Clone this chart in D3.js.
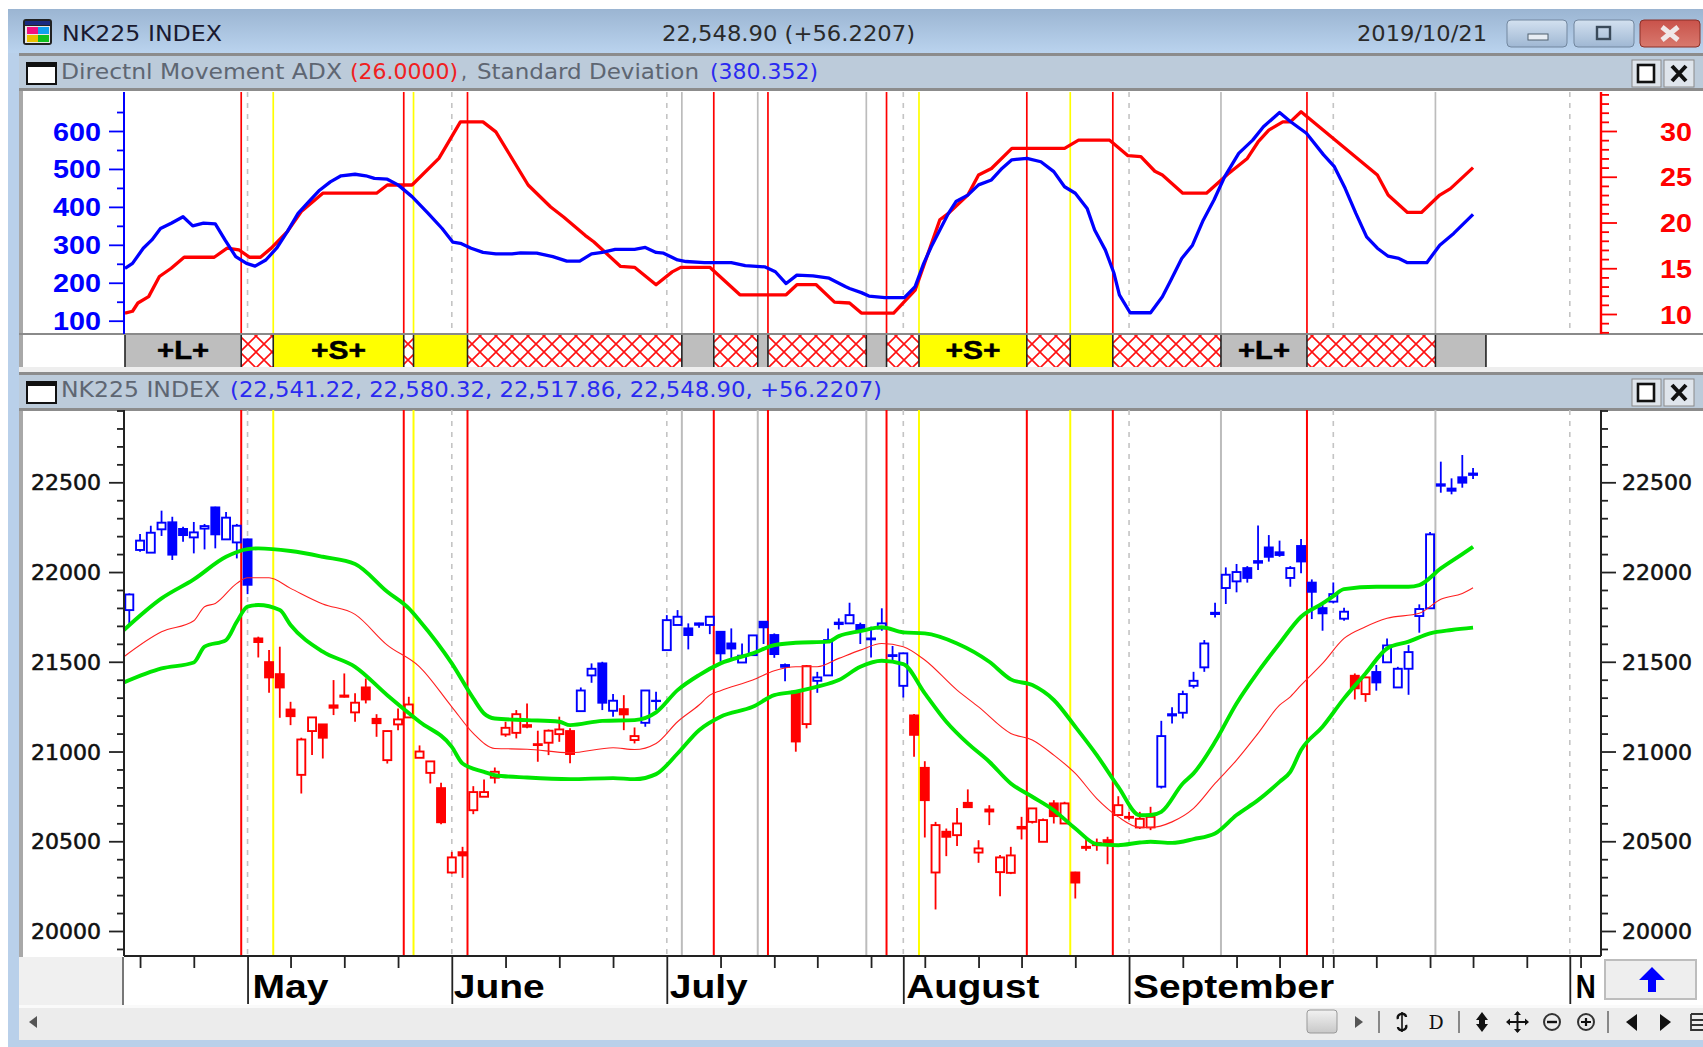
<!DOCTYPE html>
<html><head><meta charset="utf-8">
<script src="https://cdn.jsdelivr.net/npm/d3@7/dist/d3.min.js"></script>
<style>html,body{margin:0;padding:0;background:#fff;overflow:hidden}svg{display:block}</style>
</head><body><div id="chart"></div>
<script>
// ---------- data ----------
const instrument = "NK225 INDEX";
const lastQuote = "22,548.90 (+56.2207)";
const quoteDate = "2019/10/21";
const adxReading = "(26.0000)";
const stdReading = "(380.352)";
const ohlcReading = "(22,541.22, 22,580.32, 22,517.86, 22,548.90, +56.2207)";

const open = [21788,22123,22108,22238,22277,22240,22193,22242,22360,22182,22165,22182,21630,21498,21431,21234,20870,21114,21151,21257,
21305,21218,21357,21182,20952,21151,21190,20965,20881,20796,20326,20439,20673,20748,20854,21095,21104,21147,21041,21049,
21097,21114,21225,21424,21491,21227,21236,21064,21160,21283,21565,21705,21686,21714,21705,21667,21602,21496,21537,21723,
21649,21482,21333,21153,21394,21424,21718,21714,21705,21630,21686,21537,21366,21201,20909,20326,20553,20534,20714,20437,
20677,20328,20324,20580,20608,20497,20711,20599,20326,20469,20491,20506,20646,20636,20577,20577,20804,21208,21216,21366,
21469,21773,21911,21948,22022,22061,22137,22110,21967,22145,21941,21799,21835,21740,21422,21320,21443,21497,21357,21461,
21755,21798,22489,22465,22528,22541.22];
const high = [21881,22212,22258,22342,22308,22253,22279,22268,22364,22334,22268,22186,21640,21565,21584,21277,21077,21190,21153,21398,
21435,21324,21407,21208,21116,21240,21305,21034,20945,20826,20441,20469,20807,20844,20911,21166,21231,21268,21116,21123,
21194,21129,21357,21491,21500,21320,21314,21134,21342,21333,21760,21788,21714,21718,21751,21671,21686,21602,21649,21723,
21658,21491,21333,21482,21444,21686,21742,21829,21718,21695,21798,21588,21550,21209,20946,20608,20571,20686,20789,20506,
20701,20423,20469,20636,20683,20627,20729,20720,20330,20515,20515,20525,20751,20664,20664,20692,21171,21246,21339,21444,
21621,21829,22026,22045,22033,22260,22206,22175,22033,22184,21959,21816,21942,21801,21435,21417,21482,21630,21472,21593,
21820,22223,22615,22522,22652,22580.32];
const low = [21699,22113,22108,22201,22067,22169,22104,22126,22132,22182,22076,21877,21524,21327,21188,21147,20766,20980,20961,21203,
21301,21166,21268,21082,20933,21119,21190,20965,20822,20595,20320,20296,20651,20748,20822,21082,21073,21129,20943,20980,
21054,20934,21225,21383,21231,21194,21119,21045,21138,21231,21565,21705,21569,21690,21654,21500,21519,21496,21537,21599,
21522,21392,20999,21129,21327,21424,21680,21714,21599,21524,21673,21510,21301,20971,20521,20120,20417,20473,20690,20380,
20590,20194,20317,20510,20599,20497,20599,20599,20181,20447,20447,20372,20646,20618,20569,20562,20794,21156,21184,21352,
21444,21747,21822,21887,21941,22011,22058,22085,21918,21993,21738,21673,21825,21729,21290,21277,21339,21497,21357,21316,
21662,21798,22442,22433,22470,22517.86];
const close = [21875,22175,22219,22275,22097,22206,22221,22256,22210,22303,22258,21929,21610,21413,21357,21197,21067,21190,21077,21244,
21312,21272,21290,21158,21114,21179,21262,21000,20945,20606,20410,20421,20774,20774,20887,21132,21208,21138,21036,21116,
21123,20986,21340,21461,21272,21283,21207,21086,21340,21281,21732,21751,21649,21706,21751,21547,21574,21534,21647,21692,
21543,21472,21056,21476,21413,21621,21710,21760,21673,21625,21714,21532,21547,21093,20729,20590,20525,20599,20690,20460,
20666,20410,20421,20571,20683,20618,20640,20711,20270,20463,20478,20488,20701,20631,20625,20636,21086,21201,21320,21394,
21602,21766,21985,22000,21967,22052,22085,22095,22022,22059,21890,21770,21877,21779,21352,21413,21385,21591,21461,21554,
21794,22210,22481,22453,22498,22548.90];
// [first bar, last bar] of every blue run of candles; the rest are red
const blueRuns = [[0,11],[42,45],[48,61],[64,72],[96,113],[116,125]];

const upperBar = [-0.5,3,6,9,11,12,15,18,21,24,26,27,30,32,33,34,37,40,41,44,47,49,51,53,55,58,60,62,65,66,68,70,72,74,77,80,82,84,86,88,90,92,94,95,96,98,99,101,103,105,107,109,111,112,113,116,119,120,122,124,125];
const upperVal = [21677,21853,21959,22085,22128,22132,22117,22085,22045,21890,21797,21729,21491,21296,21212,21184,21175,21166,21147,21171,21175,21218,21342,21426,21491,21547,21593,21606,21612,21643,21671,21692,21664,21658,21602,21500,21402,21370,21287,21138,20980,20803,20645,20646,20664,20822,20878,21054,21268,21444,21602,21751,21825,21866,21905,21918,21918,21927,22020,22100,22141];
const midBar = [-0.5,3,6,7,8,10,11,13,15,18,21,24,27,30,32,34,37,41,45,47,49,51,53,54,55,58,60,62,64,66,68,70,72,74,77,79,82,84,86,88,90,92,94,95,97,99,101,103,105,107,108,109,111,113,115,117,120,122,124,125];
const midVal = [21528,21667,21729,21807,21825,21937,21968,21968,21909,21822,21764,21593,21472,21249,21101,21017,21013,20993,21021,21011,21045,21166,21259,21314,21339,21398,21450,21472,21472,21519,21565,21602,21584,21510,21342,21249,21101,21064,20980,20878,20738,20636,20577,20577,20608,20683,20822,20952,21101,21258,21305,21370,21491,21630,21695,21742,21770,21848,21881,21913];
const lowerBar = [-0.5,3,6,7,9,10,11,12,14,15,18,21,24,27,30,31,33,34,37,41,45,47,49,51,53,55,58,60,62,64,66,68,70,72,74,76,78,80,82,84,86,88,90,92,94,95,97,99,101,103,105,107,108,109,111,113,115,117,119,121,123,125];
const lowerVal = [21385,21463,21496,21584,21621,21723,21807,21816,21788,21705,21556,21472,21314,21166,21026,20933,20887,20868,20855,20846,20852,20846,20874,20989,21119,21194,21249,21314,21333,21361,21398,21472,21506,21487,21324,21166,21045,20943,20822,20748,20673,20571,20484,20478,20493,20497,20491,20512,20543,20646,20729,20831,20887,21008,21138,21296,21435,21574,21612,21658,21677,21690];

const stdBar = [-0.4,0.3,1.3,2.1,2.9,3.9,5,5.9,6.9,8,8.9,9.9,10.9,11.7,12.7,13.7,14.7,15.7,16.7,17.7,18.7,19.7,21,22,22.8,24,25,26.3,27.8,29.1,30.1,30.8,31.8,32.9,34.1,35.6,36.4,37.9,39.4,40.7,41.9,43,44,45.2,47,48,49,49.7,51,51.8,53.5,56,57.3,59.1,60.1,61.1,62.1,63.6,65.1,66.6,67,68.1,68.8,70.3,72.1,73.1,73.9,74.6,75.4,76.2,76.9,78,79,80.2,81.2,82.1,83.5,84.8,86,87,88,89.1,89.8,90.8,91.6,92.1,93.1,95,96.1,96.9,97.9,98.9,99.9,100.9,101.9,103.2,104.5,105.5,107,108,109.5,111.1,112.1,113.1,114.1,115.1,116.1,117.1,118.1,118.9,120.7,121.9,123.2,125];
const stdVal = [238,251,291,313,343,357,374,350,357,355,313,269,251,244,260,291,335,383,414,444,466,482,486,482,475,473,458,427,383,343,307,304,291,280,276,276,279,278,269,257,257,276,280,288,288,293,280,278,260,256,253,253,245,242,229,198,220,218,212,190,185,174,165,161,161,190,251,295,339,383,414,431,458,471,502,524,528,519,493,453,436,396,339,286,225,168,121,121,163,207,264,299,365,418,480,541,576,611,649,625,594,537,506,449,383,321,291,270,264,253,253,299,330,380.352];
const adxBar = [-0.4,0.3,0.8,1.8,2.8,3.9,5.1,7.9,9.1,10.2,11.2,12.2,13.2,14.7,16,18,23,24,26.3,28.8,30.8,32.9,34.1,37.1,39.2,40.4,42.4,43.2,45.7,47,49,50.5,51.3,54,56.8,61.1,62.1,63.9,65.6,67,68.1,71.1,73.1,75.4,76.2,78,79,80.2,82.1,87,88.3,91.2,92.9,94.1,95.4,96.1,98,100.2,102.2,104,105,106,107.3,108,109,116.1,117.1,118.9,120.2,121.9,122.9,125];
const adxVal = [10.1,10.3,11.2,11.9,14.1,15,16.2,16.2,17.2,17,16.2,16.2,17.2,19,21.2,23.2,23.2,24.1,24.1,27,31,31,29.9,24.1,21.7,20.6,18.6,17.9,15.2,15.1,13.2,14.6,15.1,15.1,12.1,12.1,13.2,13.2,11.3,11.2,10.1,10.1,12.6,20.3,21,23,25.2,25.9,28.1,28.1,29,29,27.3,27.2,25.6,25.2,23.2,23.2,25.3,27,28.8,30.1,31,31,32.1,25.2,23,21.1,21.1,23,23.7,26];

const redSignals = [10.41,25.53,31.46,54.37,59.41,70.44,83.49,91.49,109.55];
const yellowSignals = [13.39,26.44,73.46,87.53];
const greySignals = [51.40,58.46,68.56,101.55,121.5];
const monthBars = [11,30,50,72,93,112,134];
const weekBars = [1,6,15,20,25,35,40,45,55,60,64,69,74,79,83,88,98,103,107,111,112,116,121,125,130,135];
const monthNames = ["May","June","July","August","September","N"];
const monthLabelBars = [11,30,50,72,93,134];

const stateEdges = [-0.4,10.41,13.39,25.53,26.44,31.46,51.40,54.37,58.46,59.41,68.56,70.44,73.46,83.49,87.53,91.49,101.55,109.55,121.5,126.2];
const stateKinds = ["L","x","S","x","s","x","g","x","g","x","g","x","S","x","s","x","L","x","g"];

const stdTicks = [100,200,300,400,500,600];
const adxTicks = [10,15,20,25,30];
const priceTicks = [20000,20500,21000,21500,22000,22500];

// ---------- scales ----------
const W = 1703, H = 1047;
const BARS = 125;
const x = d3.scaleLinear().domain([0,BARS]).range([129.3,129.3+10.75*BARS]);
const yStd = d3.scaleLinear().domain([100,600]).range([320.7,131]);
const yAdx = d3.scaleLinear().domain([10,30]).range([314,131]);
const yPx = d3.scaleLinear().domain([20000,22500]).range([931,482.3]);
const L = 124, R = 1601;
const top1 = 92, bot1 = 334, top2 = 410, bot2 = 956;

const svg = d3.select("#chart").append("svg").attr("width",W).attr("height",H).attr("viewBox",[0,0,W,H]);
const defs = svg.append("defs");
function grad(id,a,b){const g=defs.append("linearGradient").attr("id",id).attr("x1",0).attr("x2",0).attr("y1",0).attr("y2",1);
  g.append("stop").attr("offset",0).attr("stop-color",a);g.append("stop").attr("offset",1).attr("stop-color",b);}
grad("title","#9bb5d2","#bad3ee");grad("btn","#d3e1f0","#9fb7d3");grad("close","#c9524a","#d8796e");grad("thumb","#f2f2f2","#c8c8c8");
const hp = defs.append("pattern").attr("id","hatch").attr("patternUnits","userSpaceOnUse").attr("width",16).attr("height",16);
hp.append("rect").attr("width",16).attr("height",16).attr("fill","#fff");
hp.append("path").attr("d","M0,0L16,16M16,0L0,16").attr("stroke","#ff1010").attr("stroke-width",1.6).attr("fill","none");

const rect=(g,a,b,w,h,f)=>g.append("rect").attr("x",a).attr("y",b).attr("width",w).attr("height",h).attr("fill",f);
function fit(g,s,a,base,width,size,color,opt={}){
  const t=g.append("text").attr("x",a).attr("y",base).text(s).attr("fill",color)
   .attr("font-family",opt.family||"'DejaVu Sans'").attr("font-size",size).attr("font-weight",opt.weight||"normal")
   .attr("textLength",width).attr("lengthAdjust","spacingAndGlyphs");
  if(opt.stroke)t.attr("stroke",color).attr("stroke-width",opt.stroke);
  return t;}

// ---------- window chrome ----------
const chrome = svg.append("g");
rect(chrome,8,9,W-8,H-9,"#b9d0ea");
rect(chrome,8,9,W-8,44,"url(#title)");
// app icon
rect(chrome,23,19,29,26,"#222").attr("rx",3);
rect(chrome,25,21,25,4,"#1a2a80");
rect(chrome,25,26,25,17,"#e8e8e8");
rect(chrome,27,27,11,7,"#f01080");rect(chrome,38,27,11,7,"#10a0f0");
rect(chrome,27,35,11,7,"#e8c000");rect(chrome,38,35,11,7,"#10c020");
fit(chrome,instrument,62,41,160,22,"#1a1a30");
fit(chrome,lastQuote,662,41,253,22,"#2a2a2a");
fit(chrome,quoteDate,1357,41,130,22,"#2a2a2a");
// window buttons
[[1507,"btn"],[1574,"btn"],[1640,"close"]].forEach(([bx,f])=>{
  rect(chrome,bx,20,60,27,`url(#${f})`).attr("rx",4).attr("stroke",f=="close"?"#8a3028":"#72879f");
});
rect(chrome,1528,34,20,6,"#e8eef5").attr("stroke","#50606f");
rect(chrome,1597,27,13,12,"none").attr("stroke","#3a4a5a").attr("stroke-width",2.4);
chrome.append("path").attr("d","M1662,27L1678,40M1678,27L1662,40").attr("stroke","#f0e8e8").attr("stroke-width",5);

function panelHeader(y0,y1){
  rect(chrome,19,y0-3,W-19,3,"#8c8c8c");
  rect(chrome,19,y0,W-19,y1-y0,"#bccbda");
  rect(chrome,19,y1,W-19,3,"#8c8c8c");
  rect(chrome,27,y0+7,29,21,"#fff").attr("stroke","#111").attr("stroke-width",2);
  rect(chrome,27,y0+7,29,4,"#111");
  rect(chrome,1632,y0+4,29,27,"#dfe5ec").attr("stroke","#8a8a8a");
  rect(chrome,1638,y0+9,16,17,"#fff").attr("stroke","#111").attr("stroke-width",2.6);
  rect(chrome,1664,y0+4,30,27,"#dfe5ec").attr("stroke","#8a8a8a");
  chrome.append("path").attr("d",`M1672,${y0+10}L1686,${y0+25}M1686,${y0+10}L1672,${y0+25}`).attr("stroke","#111").attr("stroke-width",4);
}
// white panel bodies first
rect(chrome,19,53,W-19,955,"#fff");
rect(chrome,19,53,4,955,"#a8a8a8");
panelHeader(56,88);
panelHeader(375,408);
rect(chrome,19,367,W-19,5,"#eeeeee");

// header texts
const H1=79,H2=397;
const HS=22;
fit(chrome,"Directnl Movement ADX",61,H1,281,HS,"#5e6672");
fit(chrome,adxReading,350,H1,108,HS,"#f02020");
fit(chrome,",",461,H1,6,HS,"#5e6672");
fit(chrome,"Standard Deviation",477,H1,222,HS,"#5e6672");
fit(chrome,stdReading,710,H1,108,HS,"#2a2af0");
fit(chrome,instrument,61,H2,159,HS,"#5e6672");
fit(chrome,ohlcReading,230,H2,652,HS,"#2a2af0");

// ---------- panels ----------
const plot = svg.append("g");
function verticals(y0,y1,w){
  const vl=(arr,color,sw,dash)=>plot.append("g").selectAll("line").data(arr).join("line")
    .attr("x1",d=>x(d)).attr("x2",d=>x(d)).attr("y1",y0).attr("y2",y1)
    .attr("stroke",color).attr("stroke-width",sw).attr("stroke-dasharray",dash||null);
  vl(monthBars,"#c4c4c4",1.6,"5,6");
  vl(greySignals,"#bcbcbc",w);
  vl(yellowSignals,"#ffff00",w);
  vl(redSignals,"#ff0000",w);
}
verticals(top1,bot1,1.7);
verticals(top2,bot2,2);

// state strip
const stripY0=335, stripY1=367;
const fillOf={L:"#bebebe",g:"#bebebe",S:"#ffff00",s:"#ffff00",x:"url(#hatch)"};
const strip=plot.append("g");
strip.selectAll("rect").data(stateKinds).join("rect")
  .attr("x",(d,i)=>x(stateEdges[i])).attr("y",stripY0)
  .attr("width",(d,i)=>x(stateEdges[i+1])-x(stateEdges[i])).attr("height",stripY1-stripY0)
  .attr("fill",d=>fillOf[d]);
strip.selectAll("line").data(stateEdges).join("line")
  .attr("x1",d=>x(d)).attr("x2",d=>x(d)).attr("y1",stripY0).attr("y2",stripY1)
  .attr("stroke","#222").attr("stroke-width",1.6);
stateKinds.forEach((k,i)=>{ if(k==="L"||k==="S"){
  strip.append("text").attr("x",(x(stateEdges[i])+x(stateEdges[i+1]))/2).attr("y",359)
    .attr("text-anchor","middle").attr("font-family","'Liberation Sans'").attr("font-weight","bold")
    .attr("font-size",26).attr("fill","#000").attr("stroke","#000").attr("stroke-width",0.5)
    .attr("textLength",k==="L"?52:55).attr("lengthAdjust","spacingAndGlyphs").text("+"+k+"+");
}});
rect(plot,19,333,W-19,2,"#8a8a8a");

// upper lines
const lineStd=d3.line().x(d=>x(d[0])).y(d=>yStd(d[1]));
const lineAdx=d3.line().x(d=>x(d[0])).y(d=>yAdx(d[1]));
plot.append("path").attr("d",lineAdx(d3.zip(adxBar,adxVal))).attr("fill","none").attr("stroke","#ff0000").attr("stroke-width",3.3).attr("stroke-linejoin","round");
plot.append("path").attr("d",lineStd(d3.zip(stdBar,stdVal))).attr("fill","none").attr("stroke","#0000ff").attr("stroke-width",3.3).attr("stroke-linejoin","round");

// candles
const isBlue=i=>blueRuns.some(r=>i>=r[0]&&i<=r[1]);
const colorOf=i=>isBlue(i)?"#0000ff":"#ff0000";
const candles=plot.append("g").selectAll("g").data(d3.range(open.length)).join("g");
candles.append("line").attr("x1",i=>x(i)).attr("x2",i=>x(i))
  .attr("y1",i=>yPx(high[i])).attr("y2",i=>yPx(low[i]))
  .attr("stroke",colorOf).attr("stroke-width",1.8);
candles.append("rect").attr("x",i=>x(i)-4).attr("width",8)
  .attr("y",i=>yPx(Math.max(open[i],close[i])))
  .attr("height",i=>Math.abs(yPx(open[i])-yPx(close[i])))
  .attr("fill",i=>close[i]>open[i]?"#fff":colorOf(i))
  .attr("stroke",colorOf).attr("stroke-width",1.9);

// bands
const bandLine=d3.line().curve(d3.curveMonotoneX).x(d=>x(d[0])).y(d=>yPx(d[1]));
plot.append("path").attr("d",bandLine(d3.zip(midBar,midVal))).attr("fill","none").attr("stroke","#ff2020").attr("stroke-width",1.1);
[[upperBar,upperVal],[lowerBar,lowerVal]].forEach(([a,b])=>
  plot.append("path").attr("d",bandLine(d3.zip(a,b))).attr("fill","none").attr("stroke","#00e600").attr("stroke-width",3.9));

// ---------- axes ----------
function styleAxis(g,color,sw){g.select(".domain").attr("stroke",color).attr("stroke-width",sw);
  g.selectAll(".tick line").attr("stroke",color).attr("stroke-width",1.8);}
function numberLabels(g,width,size,color,opt={}){
  const t=g.selectAll(".tick text").attr("font-family",opt.family||"'DejaVu Sans'").attr("font-size",size)
   .attr("font-weight",opt.weight||"normal").attr("fill",color).attr("dy","0.36em")
   .attr("textLength",width).attr("lengthAdjust","spacingAndGlyphs");
  if(opt.stroke)t.attr("stroke",color).attr("stroke-width",opt.stroke);
}
const ax=svg.append("g");
// std axis (left, upper)
let g=ax.append("g").attr("transform",`translate(${L},0)`).call(d3.axisLeft(yStd).tickValues(d3.range(150,700,100)).tickSize(7).tickSizeOuter(0).tickFormat(""));
styleAxis(g,"#0000ff",2);g.select(".domain").remove();
ax.append("line").attr("x1",L).attr("x2",L).attr("y1",top1).attr("y2",bot1).attr("stroke","#0000ff").attr("stroke-width",2);
g=ax.append("g").attr("transform",`translate(${L},0)`).call(d3.axisLeft(yStd).tickValues(stdTicks).tickSize(15).tickSizeOuter(0).tickPadding(8).tickFormat(d3.format("d")));
styleAxis(g,"#0000ff",2);g.select(".domain").remove();numberLabels(g,48,25,"#0000ff",{weight:"bold",family:"'Liberation Sans'"});
// adx axis (right, upper)
g=ax.append("g").attr("transform",`translate(${R},0)`).call(d3.axisRight(yAdx).tickValues(d3.range(8,35).filter(v=>v%5)).tickSize(8).tickSizeOuter(0).tickFormat(""));
styleAxis(g,"#ff0000",2);g.select(".domain").remove();
ax.append("line").attr("x1",R).attr("x2",R).attr("y1",top1).attr("y2",bot1).attr("stroke","#ff0000").attr("stroke-width",2.4);
g=ax.append("g").attr("transform",`translate(${R},0)`).call(d3.axisRight(yAdx).tickValues(adxTicks).tickSize(16).tickSizeOuter(0).tickPadding(43).tickFormat(d3.format("d")));
styleAxis(g,"#ff0000",2);g.select(".domain").remove();numberLabels(g,32,25,"#ff0000",{weight:"bold",family:"'Liberation Sans'"});
// price axes
const minorPrice=d3.range(19900,23000,100).filter(v=>v%500);
[[L,d3.axisLeft],[R,d3.axisRight]].forEach(([px,fn])=>{
  let a=ax.append("g").attr("transform",`translate(${px},0)`).call(fn(yPx).tickValues(minorPrice).tickSize(7).tickSizeOuter(0).tickFormat(""));
  styleAxis(a,"#222",2);a.select(".domain").remove();
  ax.append("line").attr("x1",px).attr("x2",px).attr("y1",top2).attr("y2",bot2).attr("stroke","#222").attr("stroke-width",2);
  a=ax.append("g").attr("transform",`translate(${px},0)`).call(fn(yPx).tickValues(priceTicks).tickSize(15).tickSizeOuter(0).tickPadding(px===L?8:6).tickFormat(d3.format("d")));
  styleAxis(a,"#222",2);a.select(".domain").remove();numberLabels(a,70,21,"#111",{stroke:0.55});
});
// x axis
ax.append("line").attr("x1",L).attr("x2",R).attr("y1",bot2).attr("y2",bot2).attr("stroke","#222").attr("stroke-width",2);
g=ax.append("g").attr("transform",`translate(0,${bot2})`).call(d3.axisBottom(x).tickValues(weekBars).tickSize(12).tickSizeOuter(0).tickFormat(""));
styleAxis(g,"#222",2);g.select(".domain").remove();
g=ax.append("g").attr("transform",`translate(0,${bot2})`).call(d3.axisBottom(x).tickValues(monthBars.filter(m=>m!==112)).tickSize(48).tickSizeOuter(0).tickFormat(""));
styleAxis(g,"#222",2);g.select(".domain").remove();
const monthWidth=[76,91,78,133,201,20], monthPad=[5,2,3,3,4,6];
monthNames.forEach((m,i)=>fit(ax,m,x(monthLabelBars[i])+monthPad[i],998,monthWidth[i],33,"#000",{family:"'Liberation Sans'",weight:"bold"}));

// ---------- bottom furniture ----------
const foot=svg.append("g");
rect(foot,19,957,104,48,"#f0f0f0");
rect(foot,122,957,2,48,"#777");
rect(foot,1605,960,91,39,"#eeeeee").attr("stroke","#bdbdbd").attr("stroke-width",2);
foot.append("path").attr("d","M1652,967L1665,980L1656,980L1656,992L1648,992L1648,980L1639,980Z").attr("fill","#0000ff");
rect(foot,19,1005,W-19,35,"#fafafa");
rect(foot,19,1008,W-19,32,"#ececec");
rect(foot,8,1040,W-8,7,"#b9d0ea");
rect(foot,1307,1010,30,23,"url(#thumb)").attr("rx",3).attr("stroke","#999");
const icon=(d,f="#111",s="none",sw=0)=>foot.append("path").attr("d",d).attr("fill",f).attr("stroke",s).attr("stroke-width",sw);
icon("M29,1022L37,1016L37,1028Z","#555");
icon("M1355,1016L1363,1022L1355,1028Z","#555");
[1379,1459,1608].forEach(sx=>rect(foot,sx-1,1011,2,22,"#888"));
icon("M1398,1019C1396,1013 1406,1012 1406,1017M1406,1025C1408,1031 1398,1032 1398,1027","none","#111",2.4);
icon("M1402,1012L1402,1032","none","#111",1.6);
foot.append("text").attr("x",1436).attr("y",1029).attr("text-anchor","middle").attr("font-family","'DejaVu Serif'").attr("font-size",19).attr("fill","#111").text("D");
icon("M1482,1012L1488,1020L1476,1020ZM1482,1032L1488,1024L1476,1024Z");
rect(foot,1479,1019,6,6,"#111");
icon("M1517.5,1012L1517.5,1032M1507,1022L1528,1022","none","#111",2);
icon("M1517.5,1011L1521,1015L1514,1015ZM1517.5,1033L1521,1029L1514,1029ZM1506,1022L1510,1018.5L1510,1025.5ZM1529,1022L1525,1018.5L1525,1025.5Z");
[1552,1586].forEach(cx=>foot.append("circle").attr("cx",cx).attr("cy",1022).attr("r",8).attr("fill","none").attr("stroke","#333").attr("stroke-width",2));
icon("M1547,1022L1557,1022","none","#111",2.4);
icon("M1581,1022L1591,1022M1586,1018L1586,1026","none","#111",2.2);
icon("M1637,1014L1626,1022L1637,1031Z");
icon("M1660,1014L1671,1022L1660,1031Z");
icon("M1691,1014L1703,1014M1691,1014L1691,1030L1703,1030M1691,1020L1703,1020M1691,1025L1703,1025","none","#333",1.8);
</script></body></html>
